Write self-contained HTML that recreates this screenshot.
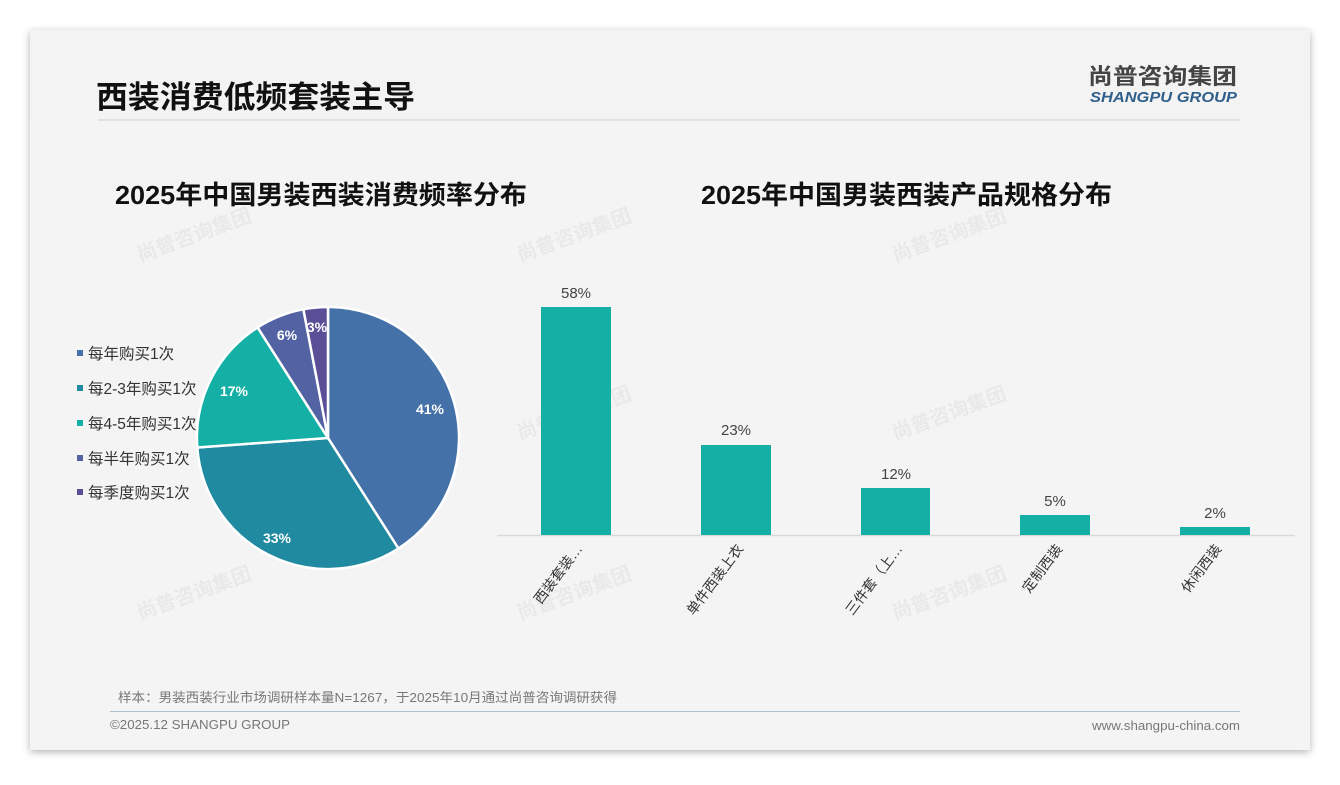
<!DOCTYPE html>
<html><head><meta charset="utf-8"><style>
body{margin:0;width:1340px;height:780px;background:#fff;font-family:"Liberation Sans","Noto Sans CJK SC",sans-serif;overflow:hidden}
</style></head><body>
<svg width="1340" height="780" xmlns="http://www.w3.org/2000/svg" font-family="Liberation Sans, Noto Sans CJK SC, sans-serif">
<defs><filter id="sh" x="-5%" y="-5%" width="110%" height="110%"><feDropShadow dx="0" dy="2" stdDeviation="4" flood-color="#000" flood-opacity="0.3"/></filter></defs>
<rect x="30" y="30" width="1280" height="720" fill="#f4f4f4" filter="url(#sh)"/>
<rect x="30" y="30" width="1280" height="90" fill="#f3f3f3"/>
<text x="96" y="108" font-size="31" font-weight="bold" fill="#111" textLength="319" lengthAdjust="spacingAndGlyphs">西装消费低频套装主导</text>
<text x="1088" y="84" font-size="22" font-weight="bold" fill="#444" textLength="149" lengthAdjust="spacingAndGlyphs">尚普咨询集团</text>
<text x="1090" y="102" font-size="15" font-weight="bold" font-style="italic" fill="#2f5f8a" textLength="147" lengthAdjust="spacingAndGlyphs">SHANGPU GROUP</text>
<line x1="98" y1="120" x2="1240" y2="120" stroke="#ddd" stroke-width="1.5"/>
<g fill="#e6e6e6" font-weight="bold" font-size="20" opacity="0.8">
<text transform="translate(140,262) rotate(-20)">尚普咨询集团</text>
<text transform="translate(520,262) rotate(-20)">尚普咨询集团</text>
<text transform="translate(895,262) rotate(-20)">尚普咨询集团</text>
<text transform="translate(520,440) rotate(-20)">尚普咨询集团</text>
<text transform="translate(895,440) rotate(-20)">尚普咨询集团</text>
<text transform="translate(140,620) rotate(-20)">尚普咨询集团</text>
<text transform="translate(520,620) rotate(-20)">尚普咨询集团</text>
<text transform="translate(895,620) rotate(-20)">尚普咨询集团</text>
</g>
<text x="115" y="204" font-size="26" font-weight="bold" fill="#111" textLength="412" lengthAdjust="spacingAndGlyphs">2025年中国男装西装消费频率分布</text>
<text x="701" y="204" font-size="26" font-weight="bold" fill="#111" textLength="411" lengthAdjust="spacingAndGlyphs">2025年中国男装西装产品规格分布</text>
<g stroke="#fff" stroke-width="2.5">
<path d="M328,438 L328,307 A131,131 0 0,1 398.4,548.5 Z" fill="#4472a8"/>
<path d="M328,438 L398.4,548.5 A131,131 0 0,1 197.3,447.5 Z" fill="#1f8aa0"/>
<path d="M328,438 L197.3,447.5 A131,131 0 0,1 257.6,327.4 Z" fill="#14b0a5"/>
<path d="M328,438 L257.6,327.4 A131,131 0 0,1 303.4,309.3 Z" fill="#5262a2"/>
<path d="M328,438 L303.4,309.3 A131,131 0 0,1 328,307 Z" fill="#5a4f96"/>
</g>
<g fill="#fff" font-size="14" font-weight="bold" text-anchor="middle">
<text x="430" y="414">41%</text><text x="277" y="543">33%</text><text x="234" y="396">17%</text><text x="287" y="340">6%</text><text x="317" y="332">3%</text>
</g>
<g font-size="15.5" fill="#333">
<rect x="77" y="350" width="6" height="6" fill="#4472a8"/><text x="88" y="359">每年购买1次</text>
<rect x="77" y="385" width="6" height="6" fill="#1f8aa0"/><text x="88" y="394">每2-3年购买1次</text>
<rect x="77" y="420" width="6" height="6" fill="#14b0a5"/><text x="88" y="429">每4-5年购买1次</text>
<rect x="77" y="455" width="6" height="6" fill="#5262a2"/><text x="88" y="464">每半年购买1次</text>
<rect x="77" y="489" width="6" height="6" fill="#5a4f96"/><text x="88" y="498">每季度购买1次</text>
</g>
<line x1="497" y1="535.5" x2="1295" y2="535.5" stroke="#d9d9d9" stroke-width="1.5"/>
<g fill="#14b0a5">
<rect x="541" y="307" width="70" height="228"/>
<rect x="701" y="445" width="70" height="90"/>
<rect x="861" y="488" width="69" height="47"/>
<rect x="1020" y="515" width="70" height="20"/>
<rect x="1180" y="527" width="70" height="8"/>
</g>
<g font-size="15" fill="#444" text-anchor="middle">
<text x="576" y="298">58%</text><text x="736" y="435">23%</text><text x="896" y="479">12%</text><text x="1055" y="506">5%</text><text x="1215" y="518">2%</text>
</g>
<g font-size="14" fill="#333" text-anchor="end">
<text transform="translate(583,549) rotate(-53)">西装套装…</text>
<text transform="translate(744,549) rotate(-53)">单件西装上衣</text>
<text transform="translate(903,549) rotate(-53)">三件套（上…</text>
<text transform="translate(1063,549) rotate(-53)">定制西装</text>
<text transform="translate(1222,549) rotate(-53)">休闲西装</text>
</g>
<text x="118" y="702" font-size="13" fill="#777" textLength="499" lengthAdjust="spacingAndGlyphs">样本：男装西装行业市场调研样本量N=1267，于2025年10月通过尚普咨询调研获得</text>
<line x1="110" y1="711.5" x2="1240" y2="711.5" stroke="#a9bfd4" stroke-width="1"/>
<text x="110" y="729" font-size="13" fill="#777" textLength="180" lengthAdjust="spacingAndGlyphs">©2025.12 SHANGPU GROUP</text>
<text x="1092" y="730" font-size="13" fill="#777" textLength="148" lengthAdjust="spacingAndGlyphs">www.shangpu-china.com</text>
</svg>
</body></html>
